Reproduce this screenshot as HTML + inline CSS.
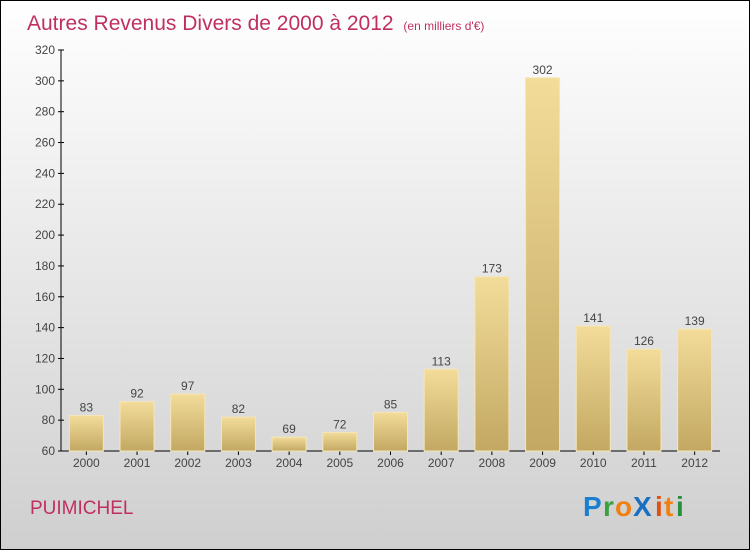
<!DOCTYPE html>
<html><head><meta charset="utf-8"><style>
body{margin:0;width:750px;height:550px;overflow:hidden}
svg{display:block;font-family:"Liberation Sans",sans-serif}
</style></head><body>
<svg width="750" height="550" viewBox="0 0 750 550">
<defs>
<linearGradient id="bg" x1="0" y1="0" x2="0" y2="1"><stop offset="0" stop-color="#ffffff"/><stop offset="1" stop-color="#cfcfcf"/></linearGradient>
<linearGradient id="bar" x1="0" y1="0" x2="0" y2="1"><stop offset="0" stop-color="#f3dc9a"/><stop offset="1" stop-color="#c2a862"/></linearGradient>
</defs>
<rect x="0.5" y="0.5" width="749" height="549" fill="url(#bg)" stroke="#000"/>
<text x="27" y="30" font-size="21" fill="#c0305f">Autres Revenus Divers de 2000 à 2012 <tspan font-size="12" dx="4">(en milliers d'€)</tspan></text>
<g id="axes"></g><g id="bars"></g>
<text x="30" y="514" font-size="19" fill="#c0305f">PUIMICHEL</text>
<g font-size="28" font-weight="bold">
<text x="583" y="516" fill="#1a7fd0">P</text><text x="603" y="516" fill="#3aa040">r</text><text x="615" y="516" fill="#f08010">o</text><text x="633" y="516" fill="#1a6fc0">X</text><text x="655" y="516" fill="#e05010">i</text><text x="664" y="516" fill="#f08010">t</text><text x="676" y="516" fill="#2a9040">i</text>
</g>
</svg>
<script>
const years=["2000","2001","2002","2003","2004","2005","2006","2007","2008","2009","2010","2011","2012"];
const values=[83,92,97,82,69,72,85,113,173,302,141,126,139];
const ticks=[60,80,100,120,140,160,180,200,220,240,260,280,300,320];
const NS="http://www.w3.org/2000/svg";
const y0=451,y1=50,vmin=60,vmax=320,xl=61,xr=720;
const ys=v=>y0-(v-vmin)/(vmax-vmin)*(y0-y1);
const step=(xr-xl)/years.length;
const xs=i=>xl+step*(i+0.5);
function mk(t,a,p){const e=document.createElementNS(NS,t);for(const k in a)e.setAttribute(k,a[k]);p.appendChild(e);return e;}
const ax=document.getElementById('axes'),bg=document.getElementById('bars');
let l=mk('line',{x1:xl,y1:y1,x2:xl,y2:y0,stroke:'#000'},ax);


l=mk('line',{x1:xl,y1:y0,x2:xr,y2:y0,stroke:'#000'},ax);


ticks.forEach(v=>{const y=ys(v);
 mk('line',{x1:xl-3,y1:y,x2:xl+3,y2:y,stroke:'#000'},ax);
 const t=mk('text',{x:xl-6,y:y+4,'text-anchor':'end','font-size':12,fill:'#444'},ax);t.textContent=v;
 
 });
years.forEach((yr,i)=>{const x=xs(i),v=values[i],w=34;
 const r=mk('rect',{x:x-w/2,y:ys(v),width:w,height:y0-ys(v),fill:'url(#bar)',stroke:'#f5e6b8','stroke-width':1},bg);
 
 
 const t=mk('text',{x:x,y:ys(v)-4,'text-anchor':'middle','font-size':12,fill:'#444'},bg);t.textContent=v;
 
 
 mk('line',{x1:x,y1:y0,x2:x,y2:y0+4,stroke:'#000'},ax);
 const xt=mk('text',{x:x,y:y0+16,'text-anchor':'middle','font-size':12,fill:'#444'},ax);xt.textContent=yr;
 
 });
</script>
</body></html>
